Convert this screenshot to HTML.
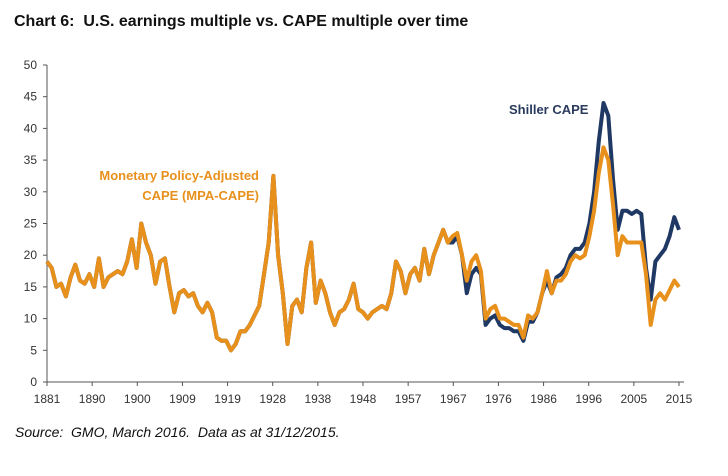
<!DOCTYPE html>
<html><head><meta charset="utf-8"><style>
body{margin:0;background:#fff;width:728px;height:471px;overflow:hidden;font-family:"Liberation Sans",sans-serif}
</style></head><body>
<svg width="728" height="471" font-family="Liberation Sans, sans-serif">
<text x="14" y="26" font-size="16" font-weight="bold" fill="#111">Chart 6:&#160; U.S. earnings multiple vs. CAPE multiple over time</text>
<g id="axes"></g>
<g id="lines"></g>
<text x="259" y="180" text-anchor="end" font-size="13" font-weight="bold" fill="#E8901C">Monetary Policy-Adjusted</text>
<text x="259" y="200" text-anchor="end" font-size="13" font-weight="bold" fill="#E8901C">CAPE (MPA-CAPE)</text>
<text x="509" y="114" font-size="13" font-weight="bold" fill="#2A3B5E">Shiller CAPE</text>
<text x="15" y="437" font-size="14" font-style="italic" fill="#111">Source:&#160; GMO, March 2016.&#160; Data as at 31/12/2015.</text>
</svg>
<script>
const years=[];for(let y=1881;y<=2015;y++)years.push(y);
const mpa=[19,18,15,15.5,13.5,16.5,18.5,16,15.5,17,15,19.5,15,16.5,17,17.5,17,19,22.5,18,25,22,20,15.5,19,19.5,15,11,14,14.5,13.5,14,12,11,12.5,11,7,6.5,6.5,5,6,8,8,9,10.5,12,17,22,32.5,20,14,6,12,13,11,18,22,12.5,16,14,11,9,11,11.5,13,15.5,11.5,11,10,11,11.5,12,11.5,14,19,17.5,14,17,18,16,21,17,20,22,24,22,23,23.5,20,16,19,20,17.5,10,11.5,12,10,10,9.5,9,9,7,10.5,10,11,14,17.5,14,16,16,17,19,20,19.5,20,23,27,33,37,35,28,20,23,22,22,22,22,17,9,13,14,13,14.5,16,15];
const capeLate=[22,23,20,14,17,18,17,9,10,10.5,9,8.5,8.5,8,8,6.5,9.5,9.5,11,14,16,14,16.5,17,18,20,21,21,22,25,30,38,44,42,32,24,27,27,26.5,27,26.5,18,13,19,20,21,23,26,24];
const cape=mpa.slice(0,86).concat(capeLate);
const yTicks=[0,5,10,15,20,25,30,35,40,45,50];
const xTickLabels=['1881','1890','1900','1909','1919','1928','1938','1948','1957','1967','1976','1986','1996','2005','2015'];
const NS='http://www.w3.org/2000/svg';
const X0=47,X1=679,Y0=382,Y1=65;
const xs=y=>X0+(y-1881)/(2015-1881)*(X1-X0);
const ys=v=>Y0-v/50*(Y0-Y1);
const ax=document.getElementById('axes'),ln=document.getElementById('lines');
function mk(t,a,p){const e=document.createElementNS(NS,t);for(const k in a)e.setAttribute(k,a[k]);p.appendChild(e);return e;}
const yl=mk('line',{x1:X0,y1:Y1,x2:X0,y2:Y0,stroke:'#555','stroke-width':1},ax);


const xl=mk('line',{x1:X0,y1:Y0,x2:X1+5,y2:Y0,stroke:'#555','stroke-width':1},ax);


yTicks.forEach(v=>{
 mk('line',{x1:X0-4,x2:X0,y1:ys(v),y2:ys(v),stroke:'#555'},ax);
 const t=mk('text',{x:X0-10,y:ys(v)+4,'text-anchor':'end','font-size':12,fill:'#333'},ax);
 t.textContent=v;
 
 
});
xTickLabels.forEach((l,i)=>{
 const x=X0+i*(X1-X0)/(xTickLabels.length-1);
 mk('line',{x1:x,x2:x,y1:Y0,y2:Y0+4,stroke:'#555'},ax);
 const t=mk('text',{x:x,y:Y0+21,'text-anchor':'middle','font-size':12,fill:'#333'},ax);
 t.textContent=l;
 
 
});
function path(arr,col,name){
 const d=arr.map((v,i)=>(i?'L':'M')+xs(years[i]).toFixed(1)+','+ys(v).toFixed(1)).join('');
 const p=mk('path',{d:d,fill:'none',stroke:col,'stroke-width':4,'stroke-linejoin':'round'},ln);
 
 
}
path(cape,'#1F3864','shiller-cape-line');
path(mpa,'#E8901C','mpa-cape-line');
</script>
</body></html>
